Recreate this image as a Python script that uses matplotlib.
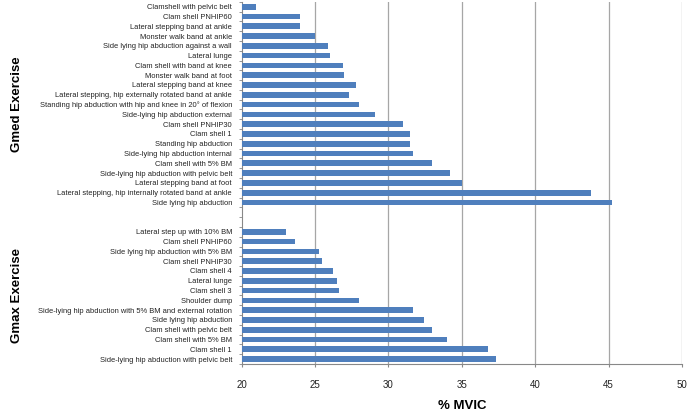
import matplotlib
matplotlib.use("Agg")
import matplotlib.pyplot as plt
import matplotlib.transforms as mtransforms
import numpy as np

# Gmed exercises, top to bottom as shown
gmed_labels = [
    "Clamshell with pelvic belt",
    "Clam shell PNHIP60",
    "Lateral stepping band at ankle",
    "Monster walk band at ankle",
    "Side lying hip abduction against a wall",
    "Lateral lunge",
    "Clam shell with band at knee",
    "Monster walk band at foot",
    "Lateral stepping band at knee",
    "Lateral stepping, hip externally rotated band at ankle",
    "Standing hip abduction with hip and knee in 20\u00b0 of flexion",
    "Side-lying hip abduction external",
    "Clam shell PNHIP30",
    "Clam shell 1",
    "Standing hip abduction",
    "Side-lying hip abduction internal",
    "Clam shell with 5% BM",
    "Side-lying hip abduction with pelvic belt",
    "Lateral stepping band at foot",
    "Lateral stepping, hip internally rotated band at ankle",
    "Side lying hip abduction",
]
gmed_values = [21.0, 24.0, 24.0, 25.0, 25.9, 26.0, 26.9, 27.0, 27.8, 27.3,
               28.0, 29.1, 31.0, 31.5, 31.5, 31.7, 33.0, 34.2, 35.0, 43.8, 45.25]

# Gmax exercises, top to bottom as shown
gmax_labels = [
    "Lateral step up with 10% BM",
    "Clam shell PNHIP60",
    "Side lying hip abduction with 5% BM",
    "Clam shell PNHIP30",
    "Clam shell 4",
    "Lateral lunge",
    "Clam shell 3",
    "Shoulder dump",
    "Side-lying hip abduction with 5% BM and external rotation",
    "Side lying hip abduction",
    "Clam shell with pelvic belt",
    "Clam shell with 5% BM",
    "Clam shell 1",
    "Side-lying hip abduction with pelvic belt",
]
gmax_values = [23.0, 23.6, 25.3, 25.5, 26.2, 26.5, 26.6, 28.0, 31.7, 32.4,
               33.0, 34.0, 36.8, 37.3]

n_gap = 2
x_ticks = [20, 25, 30, 35, 40, 45, 50]

# Build bottom-to-top category list
labels_bt = list(reversed(gmax_labels)) + [""] * n_gap + list(reversed(gmed_labels))
values_bt = list(reversed(gmax_values)) + [np.nan] * n_gap + list(reversed(gmed_values))
n = len(labels_bt)
ypos = np.arange(n)

fig = plt.figure(figsize=(6.88, 4.15), dpi=100)
ax = fig.add_axes([0.3513, 0.1229, 0.9913 - 0.3513, 0.9957 - 0.1229])

vals = np.array(values_bt, dtype=float)
mask = ~np.isnan(vals)
ax.barh(ypos[mask], vals[mask] - 20, left=20, height=0.58, color="#4F7FBD",
        edgecolor="none", zorder=3)

ax.set_xlim(20, 50)
ax.set_ylim(-0.5, n - 0.5)
ax.set_xticks(x_ticks)
ax.set_xticklabels([str(t) for t in x_ticks], fontsize=7, family="Liberation Sans",
                   color="#222222")
ax.tick_params(axis="x", length=2.5, color="#888888", pad=9)

ax.set_yticks(ypos)
ax.set_yticklabels(labels_bt, fontsize=5.4, family="Liberation Sans", color="#222222")
ax.tick_params(axis="y", which="major", length=0, pad=7)
ax.set_yticks(np.arange(-0.5, n, 1.0), minor=True)
ax.tick_params(axis="y", which="minor", length=2.5, color="#888888")

for v in x_ticks[1:]:
    ax.axvline(v, color="#A6A6A6", lw=0.9, zorder=1)

for s in ["top", "right"]:
    ax.spines[s].set_visible(False)
for s in ["left", "bottom"]:
    ax.spines[s].set_color("#888888")
    ax.spines[s].set_linewidth(0.8)

ax.set_xlabel("% MVIC", fontsize=9.5, fontweight="bold", family="Liberation Sans",
              labelpad=7)

trans = mtransforms.blended_transform_factory(fig.transFigure, ax.transData)
n_gmax = len(gmax_labels)
gmed_center = n_gmax + n_gap + (len(gmed_labels) - 1) / 2
gmax_center = (n_gmax - 1) / 2
ax.text(0.024, gmed_center, "Gmed Exercise", rotation=90, transform=trans,
        ha="center", va="center", fontsize=9.5, fontweight="bold", family="Liberation Sans")
ax.text(0.024, gmax_center, "Gmax Exercise", rotation=90, transform=trans,
        ha="center", va="center", fontsize=9.5, fontweight="bold", family="Liberation Sans")

fig.savefig("out.png", dpi=100)
